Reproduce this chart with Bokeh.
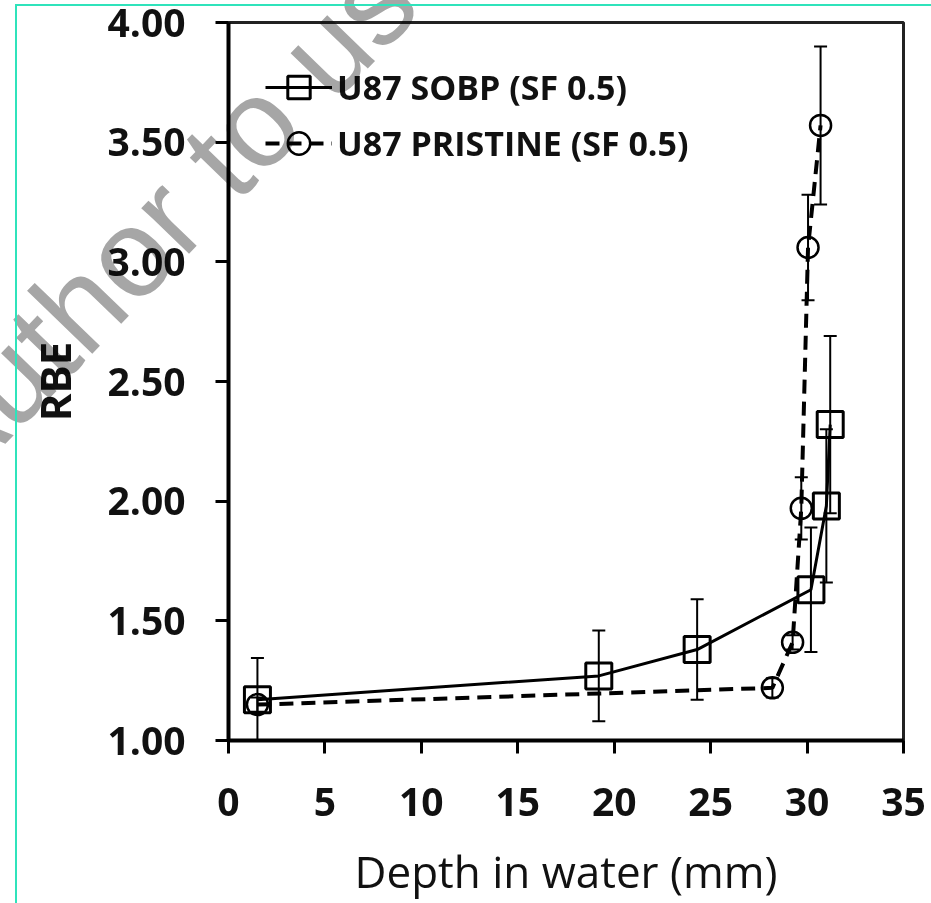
from bokeh.plotting import figure
from bokeh.models import (ColumnDataSource, Whisker, TeeHead, Range1d, FixedTicker,
                          Legend, LegendItem, InlineStyleSheet)
from bokeh.embed import file_html
from bokeh.resources import INLINE

# ---- data ----
sobp_depth = [1.5, 19.2, 24.3, 30.2, 31.0, 31.2]
sobp_rbe = [1.17, 1.27, 1.38, 1.63, 1.98, 2.32]
sobp_err = [0.175, 0.19, 0.21, 0.26, 0.32, 0.37]

pristine_depth = [1.5, 28.2, 29.25, 29.7, 30.05, 30.7]
pristine_rbe = [1.15, 1.22, 1.41, 1.97, 3.06, 3.57]
pristine_err = [0.03, 0.04, 0.03, 0.13, 0.22, 0.33]

x_ticks = [0, 5, 10, 15, 20, 25, 30, 35]
y_ticks = [1.0, 1.5, 2.0, 2.5, 3.0, 3.5, 4.0]
y_tick_labels = ["1.00", "1.50", "2.00", "2.50", "3.00", "3.50", "4.00"]
series_labels = ["U87 SOBP (SF 0.5)", "U87 PRISTINE (SF 0.5)"]
x_title = "Depth in water (mm)"
y_title = "RBE"
watermark_text = "Author to use"

# ---- figure ----
p = figure(width=931, height=903, output_backend="svg", toolbar_location=None,
           x_range=Range1d(0, 35), y_range=Range1d(1, 4),
           min_border_left=228, min_border_right=28, min_border_top=22, min_border_bottom=163)
p.background_fill_color = "white"
p.border_fill_color = "white"
p.grid.visible = False
p.outline_line_color = "#222222"
p.outline_line_width = 3

# page decorations of the reference image: grey diagonal watermark and teal edge lines
p.stylesheets = [InlineStyleSheet(css=f"""
:host {{ overflow: hidden; }}
:host::before {{
  content: "{watermark_text}";
  position: absolute; left: -44px; top: 389px;
  font-family: 'Liberation Sans', sans-serif; font-size: 125px; line-height: 1;
  white-space: nowrap; color: #a6a6a6;
  transform-origin: 0px 106px; transform: rotate(-46deg);
  mix-blend-mode: multiply; z-index: 10; pointer-events: none;
}}
:host::after {{
  content: "";
  position: absolute; left: 15px; top: 4px;
  width: calc(100% - 15px); height: calc(100% - 4px); box-sizing: border-box;
  border-left: 2px solid #2fe3bb; border-top: 2px solid #2fe3bb;
  z-index: 11; pointer-events: none;
}}
""")]

# error bars
s_src = ColumnDataSource(dict(x=sobp_depth, y=sobp_rbe,
                              upper=[v + e for v, e in zip(sobp_rbe, sobp_err)],
                              lower=[v - e for v, e in zip(sobp_rbe, sobp_err)]))
c_src = ColumnDataSource(dict(x=pristine_depth, y=pristine_rbe,
                              upper=[v + e for v, e in zip(pristine_rbe, pristine_err)],
                              lower=[v - e for v, e in zip(pristine_rbe, pristine_err)]))
for src in (s_src, c_src):
    w = Whisker(source=src, base="x", upper="upper", lower="lower", dimension="height",
                line_color="black", line_width=2,
                upper_head=TeeHead(size=13, line_width=2, line_color="black"),
                lower_head=TeeHead(size=13, line_width=2, line_color="black"))
    p.add_layout(w)

# series
s_line = p.line("x", "y", source=s_src, line_color="black", line_width=3)
s_mark = p.scatter("x", "y", source=s_src, marker="square", size=26, fill_color=None,
                   line_color="black", line_width=3)
c_line = p.line("x", "y", source=c_src, line_color="black", line_width=4, line_dash="14 8")
c_mark = p.scatter("x", "y", source=c_src, marker="circle", size=21, fill_color=None,
                   line_color="black", line_width=2.5)

legend = Legend(items=[LegendItem(label=series_labels[0], renderers=[s_line, s_mark]),
                       LegendItem(label=series_labels[1], renderers=[c_line, c_mark])],
                location="top_left", glyph_width=67, glyph_height=56, label_standoff=5,
                spacing=0, padding=0, margin=37, border_line_color=None,
                background_fill_alpha=0,
                label_text_font="Open Sans", label_text_font_style="bold",
                label_text_font_size="34px", label_text_color="#111111")
p.add_layout(legend)

# axes
for ax in (p.xaxis[0], p.yaxis[0]):
    ax.axis_line_width = 4
    ax.axis_line_color = "black"
    ax.major_tick_in = 0
    ax.major_tick_out = 13
    ax.major_tick_line_width = 3
    ax.major_tick_line_color = "black"
    ax.minor_tick_line_color = None
    ax.major_label_text_font = "Open Sans"
    ax.major_label_text_font_style = "bold"
    ax.major_label_text_font_size = "39px"
    ax.major_label_text_color = "#111111"

p.xaxis.ticker = FixedTicker(ticks=x_ticks)
p.yaxis.ticker = FixedTicker(ticks=y_ticks)
p.yaxis.major_label_overrides = {t: l for t, l in zip(y_ticks, y_tick_labels)}
p.xaxis.major_label_standoff = 34
p.yaxis.major_label_standoff = 30

p.xaxis.axis_label = x_title
p.xaxis.axis_label_text_font = "Open Sans"
p.xaxis.axis_label_text_font_style = "normal"
p.xaxis.axis_label_text_font_size = "44px"
p.xaxis.axis_label_text_color = "#111111"
p.xaxis.axis_label_text_line_height = 0.8
p.xaxis.axis_label_standoff = 22

p.yaxis.axis_label = y_title
p.yaxis.axis_label_text_font = "Open Sans"
p.yaxis.axis_label_text_font_style = "bold"
p.yaxis.axis_label_text_font_size = "42px"
p.yaxis.axis_label_text_color = "#111111"
p.yaxis.axis_label_standoff = 21

open("out.html", "w").write(file_html(p, INLINE))
